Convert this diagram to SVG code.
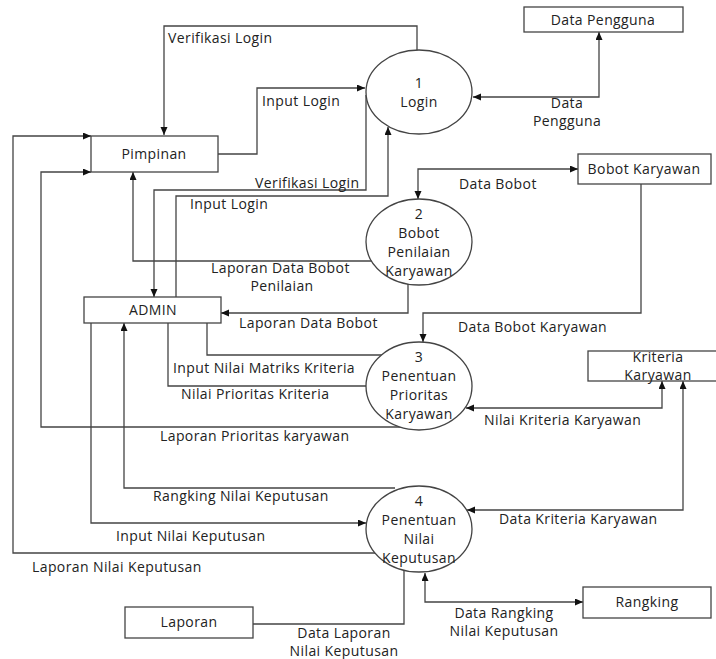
<svg xmlns="http://www.w3.org/2000/svg" width="716" height="659" viewBox="0 0 716 659">
<defs>
<marker id="ar" markerWidth="9" markerHeight="8" refX="8" refY="3.5" orient="auto-start-reverse" markerUnits="userSpaceOnUse">
<path d="M0,0 L8,3.5 L0,7 z" fill="#111"/>
</marker>
<style>
.c{fill:none;stroke:#444;stroke-width:1.3}
.a{marker-end:url(#ar)}
.b{marker-start:url(#ar);marker-end:url(#ar)}
.n{fill:#fff;stroke:#444;stroke-width:1.3}
text{font-family:"Open Sans","Noto Sans",sans-serif;font-size:14px;letter-spacing:0.4px;fill:#222}
.m{text-anchor:middle}
</style>
</defs>
<g id="connectors">
<path class="c a" d="M417,51 V26 H164 V135"/>
<path class="c a" d="M218,154 H257 V88 H365"/>
<path class="c a" d="M366,95 V190 H154 V297"/>
<path class="c a" d="M176,297 V196 H388 V127"/>
<path class="c b" d="M473,97 H599 V32"/>
<path class="c b" d="M418,199 V169 H578"/>
<path class="c a" d="M372,261 H133 V172"/>
<path class="c a" d="M408,280 V313 H221"/>
<path class="c a" d="M641,184 V313 H423 V342"/>
<path class="c" d="M207,323 V355 H385"/>
<path class="c" d="M168,323 V386 H367"/>
<path class="c b" d="M466,408 H662 V381"/>
<path class="c a" d="M405,427 H41 V172 H91"/>
<path class="c b" d="M683,381 V510 H467"/>
<path class="c a" d="M395,488 H124 V323"/>
<path class="c a" d="M91,323 V523 H366"/>
<path class="c a" d="M380,553 H13 V136 H91"/>
<path class="c b" d="M425,573 V602 H583"/>
<path class="c" d="M404,565 V624 H253"/>
</g>
<g id="pimpinan"><rect class="n" x="91" y="136" width="127" height="36"/><text class="m" x="154" y="159">Pimpinan</text></g>
<g id="admin"><rect class="n" x="84" y="297" width="137" height="26"/><text class="m" x="153" y="315">ADMIN</text></g>
<g id="data-pengguna"><rect class="n" x="524" y="7" width="159" height="25"/><text class="m" x="603" y="25">Data Pengguna</text></g>
<g id="bobot-karyawan"><rect class="n" x="578" y="154" width="133" height="30"/><text class="m" x="644" y="174">Bobot Karyawan</text></g>
<g id="kriteria-karyawan"><rect class="n" x="588" y="351" width="132" height="30"/><text class="m" x="658" y="362">Kriteria</text><text class="m" x="658" y="380">Karyawan</text></g>
<g id="rangking"><rect class="n" x="583" y="587" width="128" height="31"/><text class="m" x="647" y="607">Rangking</text></g>
<g id="laporan"><rect class="n" x="125" y="607" width="128" height="31"/><text class="m" x="189" y="627">Laporan</text></g>
<g id="p1"><ellipse class="n" cx="419" cy="92" rx="53" ry="42"/><text class="m" x="419" y="88">1</text><text class="m" x="419" y="107">Login</text></g>
<g id="p2"><ellipse class="n" cx="419" cy="242" rx="53" ry="43"/><text class="m" x="419" y="219">2</text><text class="m" x="419" y="238">Bobot</text><text class="m" x="419" y="257">Penilaian</text><text class="m" x="419" y="276">Karyawan</text></g>
<g id="p3"><ellipse class="n" cx="419" cy="386" rx="53" ry="44"/><text class="m" x="419" y="362">3</text><text class="m" x="419" y="381">Penentuan</text><text class="m" x="419" y="400">Prioritas</text><text class="m" x="419" y="419">Karyawan</text></g>
<g id="p4"><ellipse class="n" cx="419" cy="529" rx="53" ry="43"/><text class="m" x="419" y="506">4</text><text class="m" x="419" y="525">Penentuan</text><text class="m" x="419" y="544">Nilai</text><text class="m" x="419" y="563">Keputusan</text></g>
<g id="labels">
<text x="168" y="43">Verifikasi Login</text>
<text x="262" y="106">Input Login</text>
<text x="255" y="188">Verifikasi Login</text>
<text x="190" y="209">Input Login</text>
<text class="m" x="567" y="108">Data</text>
<text class="m" x="567" y="126">Pengguna</text>
<text x="459" y="189">Data Bobot</text>
<text x="211" y="273">Laporan Data Bobot</text>
<text class="m" x="282" y="291">Penilaian</text>
<text x="239" y="328">Laporan Data Bobot</text>
<text x="458" y="332">Data Bobot Karyawan</text>
<text x="173" y="373">Input Nilai Matriks Kriteria</text>
<text x="181" y="399">Nilai Prioritas Kriteria</text>
<text x="484" y="425">Nilai Kriteria Karyawan</text>
<text x="160" y="441">Laporan Prioritas karyawan</text>
<text x="153" y="501">Rangking Nilai Keputusan</text>
<text x="499" y="524">Data Kriteria Karyawan</text>
<text x="116" y="541">Input Nilai Keputusan</text>
<text x="32" y="572">Laporan Nilai Keputusan</text>
<text class="m" x="504" y="618">Data Rangking</text>
<text class="m" x="504" y="636">Nilai Keputusan</text>
<text class="m" x="344" y="638">Data Laporan</text>
<text class="m" x="344" y="656">Nilai Keputusan</text>
</g>
</svg>
